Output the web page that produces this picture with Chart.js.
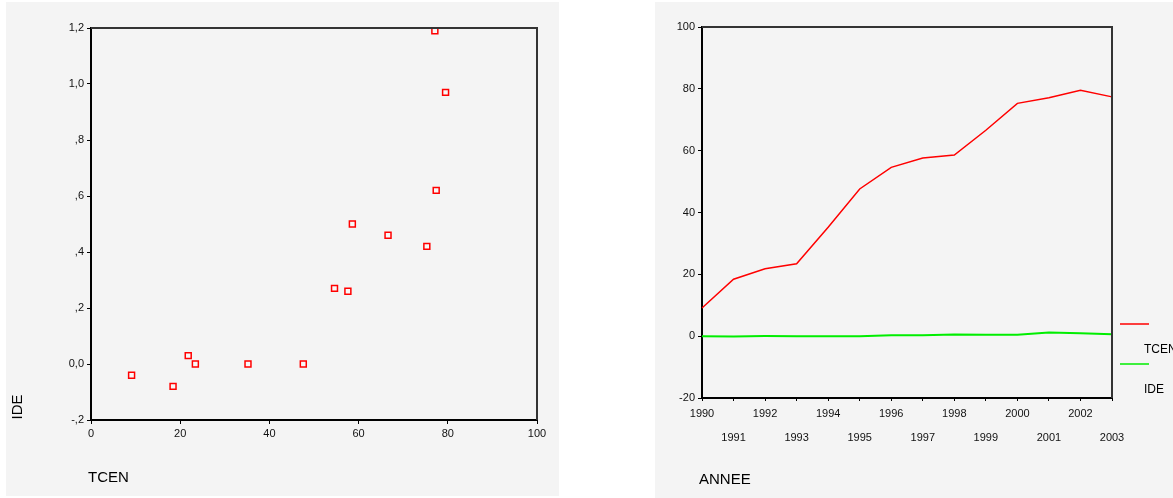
<!DOCTYPE html>
<html>
<head>
<meta charset="utf-8">
<script src="https://cdn.jsdelivr.net/npm/chart.js@4.4.0/dist/chart.umd.min.js"></script>
<style>
  html, body { margin: 0; padding: 0; background: #fff; }
  body { width: 1173px; height: 498px; position: relative; overflow: hidden; }
  canvas { position: absolute; background: #f4f4f4; }
  #scatter { left: 6px; top: 2px; }
  #lines { left: 655px; top: 2px; }
</style>
</head>
<body>
<canvas id="scatter" width="553" height="494"></canvas>
<canvas id="lines" width="518" height="496"></canvas>
<script>
// data
const years = ['1990', '1991', '1992', '1993', '1994', '1995', '1996', '1997', '1998', '1999', '2000', '2001', '2002', '2003'];
const tcen = [9.1, 18.4, 21.8, 23.4, 35.2, 47.6, 54.6, 57.6, 58.6, 66.6, 75.3, 77.1, 79.5, 77.4];
const ide = [-0.04, -0.08, 0.03, 0.0, 0.0, 0.0, 0.27, 0.26, 0.50, 0.46, 0.42, 1.19, 0.97, 0.62];

const FONT = "'Liberation Sans', Arial, sans-serif";
const tickFont = { family: FONT, size: 11 };

// SPSS style decimals: 1,2  ,8  0,0  -,2
const spssNum = v => {
  if (Math.abs(v) < 1e-9) return '0,0';
  let s = Number(v).toFixed(1).replace('.', ',');
  return s.replace(/^(-?)0,/, '$1,');
};

// top and right frame lines of the plot box
const frame = {
  id: 'frame',
  afterDraw(chart) {
    const { ctx, chartArea: a } = chart;
    ctx.save();
    ctx.strokeStyle = '#333';
    ctx.lineWidth = 2;
    ctx.beginPath();
    ctx.moveTo(a.left, a.top);
    ctx.lineTo(a.right, a.top);
    ctx.lineTo(a.right, a.bottom);
    ctx.stroke();
    ctx.restore();
  }
};

// axis titles + legend
const texts = {
  id: 'texts',
  afterDraw(chart, args, opts) {
    const { ctx, chartArea: a } = chart;
    ctx.save();
    ctx.fillStyle = '#000';
    ctx.font = `15px ${FONT}`;
    ctx.textBaseline = 'middle';
    if (opts.xTitle) {
      ctx.textAlign = 'left';
      ctx.fillText(opts.xTitle, a.left - 3, chart.height - 18);
    }
    if (opts.yTitle) {
      ctx.save();
      ctx.translate(12, a.bottom - 13);
      ctx.rotate(-Math.PI / 2);
      ctx.textAlign = 'center';
      ctx.fillText(opts.yTitle, 0, 0);
      ctx.restore();
    }
    if (opts.legend) {
      ctx.font = `12px ${FONT}`;
      ctx.textAlign = 'left';
      opts.legend.forEach((it, i) => {
        const y = a.bottom - 74 + i * 40;
        ctx.strokeStyle = it.color;
        ctx.lineWidth = 1.5;
        ctx.beginPath();
        ctx.moveTo(a.right + 8, y);
        ctx.lineTo(a.right + 37, y);
        ctx.stroke();
        ctx.fillText(it.label, a.right + 32, y + 26);
      });
    }
    ctx.restore();
  }
};

new Chart(document.getElementById('scatter'), {
  type: 'scatter',
  data: {
    datasets: [{
      label: 'IDE',
      data: tcen.map((x, i) => ({ x: x, y: ide[i] })),
      pointStyle: 'rect',
      pointRadius: 4.2,
      pointBorderWidth: 1.5,
      borderColor: '#ff0000',
      backgroundColor: 'rgba(255,255,255,0.4)'
    }]
  },
  options: {
    responsive: false,
    animation: false,
    layout: { padding: { left: 0, top: 26, right: 22, bottom: 0 } },
    plugins: {
      legend: { display: false },
      tooltip: { enabled: false },
      texts: { xTitle: 'TCEN', yTitle: 'IDE' }
    },
    scales: {
      x: {
        type: 'linear', min: 0, max: 100,
        ticks: { stepSize: 20, color: '#111', font: tickFont, padding: 3 },
        grid: { drawOnChartArea: false, color: '#000', tickLength: 4 },
        border: { color: '#000', width: 2 },
        afterFit: s => { s.height = 76; }
      },
      y: {
        min: -0.2, max: 1.2,
        ticks: { stepSize: 0.2, color: '#111', font: tickFont, padding: 3, callback: v => spssNum(v) },
        grid: { drawOnChartArea: false, color: '#000', tickLength: 4 },
        border: { color: '#000', width: 2 },
        afterFit: s => { s.width = 85; }
      }
    }
  },
  plugins: [frame, texts]
});

new Chart(document.getElementById('lines'), {
  type: 'line',
  data: {
    labels: years,
    datasets: [
      { label: 'TCEN', data: tcen, borderColor: '#ff0000', borderWidth: 1.5, pointRadius: 0, tension: 0 },
      { label: 'IDE', data: ide, borderColor: '#00ee00', borderWidth: 2, pointRadius: 0, tension: 0 }
    ]
  },
  options: {
    responsive: false,
    animation: false,
    layout: { padding: { left: 0, top: 25, right: 61, bottom: 0 } },
    plugins: {
      legend: { display: false },
      tooltip: { enabled: false },
      texts: {
        xTitle: 'ANNEE',
        legend: [{ label: 'TCEN', color: '#ff0000' }, { label: 'IDE', color: '#00ee00' }]
      }
    },
    scales: {
      x: {
        offset: false,
        ticks: {
          color: '#111', font: { family: FONT, size: 11, lineHeight: 2.2 }, padding: 1,
          maxRotation: 0, autoSkip: false,
          callback: function (v, i) {
            const l = this.getLabelForValue(v);
            return i % 2 === 0 ? [l, ''] : ['', l];
          }
        },
        grid: { drawOnChartArea: false, color: '#000', tickLength: 3 },
        border: { color: '#000', width: 2 },
        afterFit: s => { s.height = 100; }
      },
      y: {
        min: -20, max: 100,
        ticks: { stepSize: 20, color: '#111', font: tickFont, padding: 3 },
        grid: { drawOnChartArea: false, color: '#000', tickLength: 4 },
        border: { color: '#000', width: 2 },
        afterFit: s => { s.width = 47; }
      }
    }
  },
  plugins: [frame, texts]
});
</script>
</body>
</html>
